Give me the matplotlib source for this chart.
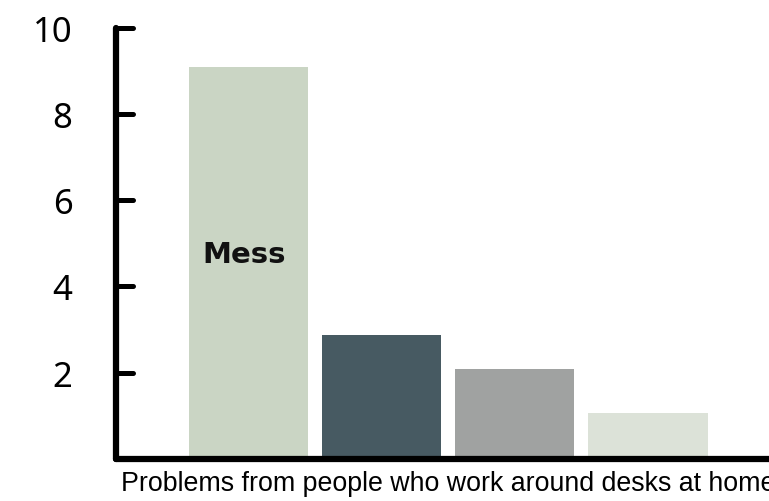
import matplotlib.pyplot as plt
from matplotlib.markers import MarkerStyle, TICKRIGHT

# data
categories = ["Mess", "B", "C", "D"]
values = [9.1, 2.87, 2.08, 1.07]
colors = ["#CAD5C4", "#475A62", "#A0A2A1", "#DCE2D8"]
y_ticks = [2, 4, 6, 8, 10]
x_label = "Problems from people who work around desks at home"

fig = plt.figure(figsize=(7.69, 5.02), dpi=100)
ax = fig.add_axes([0.1502, 0.0843, 0.865, 0.8579])

ind = range(len(categories))
ax.bar(ind, values, width=0.9, color=colors, zorder=1)

# label only on the first bar
ax.text(-0.03, 4.75, categories[0], ha="center", va="center",
        fontsize=21, fontweight="bold", color="#111111", family="DejaVu Sans")

ax.set_xlim(-1, 4)
ax.set_ylim(0, 10)
ax.set_xticks([])
ax.set_yticks(y_ticks)
ax.set_yticklabels([str(t) for t in y_ticks], fontsize=25, family="Noto Sans")
ax.tick_params(axis="y", direction="in", length=12, width=3.6, pad=31, color="black")
for t in ax.yaxis.get_major_ticks():
    t.tick1line.set_marker(MarkerStyle(TICKRIGHT, capstyle="round"))

for side in ["top", "right"]:
    ax.spines[side].set_visible(False)
for side in ["left", "bottom"]:
    ax.spines[side].set_linewidth(4.5)
    ax.spines[side].set_capstyle("round")
    ax.spines[side].set_zorder(3)

ax.set_xlabel(x_label, fontsize=19.3, family="Liberation Sans", labelpad=8)

plt.savefig("out.png", dpi=100)
